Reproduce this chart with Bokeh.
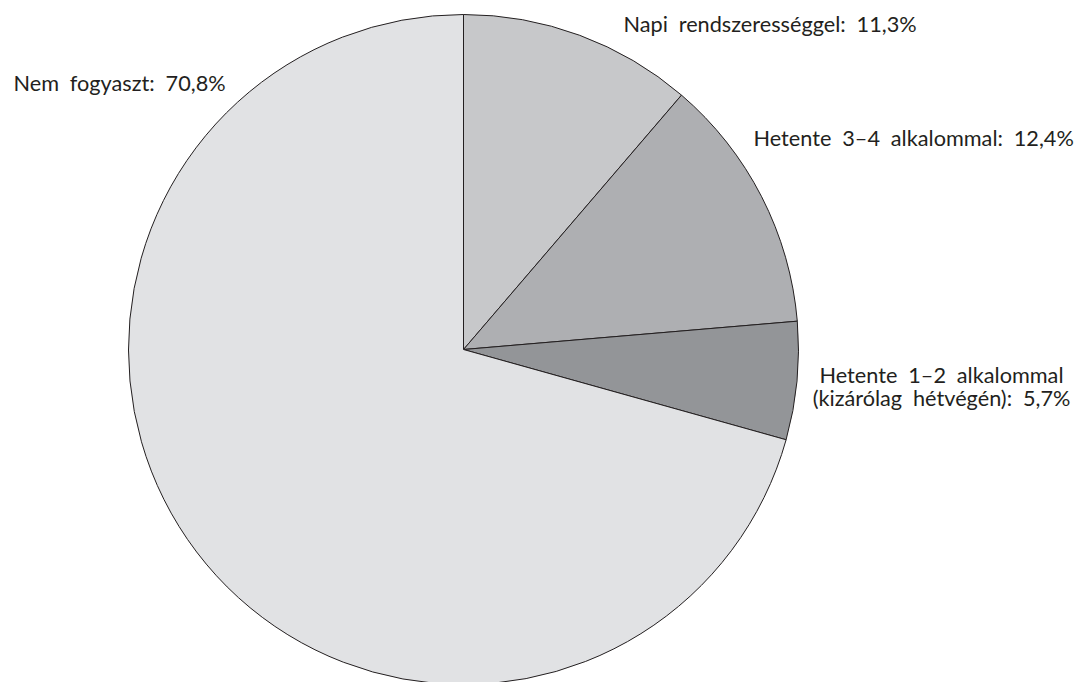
from math import pi
from bokeh.plotting import figure
from bokeh.models import Range1d, ColumnDataSource
from bokeh.core.properties import value
from bokeh.embed import file_html
from bokeh.resources import INLINE

# ---- data ----
categories = ["Napi rendszerességgel", "Hetente 3–4 alkalommal",
              "Hetente 1–2 alkalommal (kizárólag hétvégén)", "Nem fogyaszt"]
shares = [11.3, 12.4, 5.7, 70.8]
share_labels = ["11,3%", "12,4%", "5,7%", "70,8%"]
label_lines = [["Napi rendszerességgel:"],
               ["Hetente 3–4 alkalommal:"],
               ["Hetente 1–2 alkalommal", "(kizárólag hétvégén):"],
               ["Nem fogyaszt:"]]

# ---- style / layout ----
colors = ["#c7c8ca", "#aeafb2", "#939598", "#e1e2e4"]
W, H = 1081, 682
cx, cy, R = 463, 333, 335
label_x = [623, 753, 941, 13]
label_y = [659, 545, 308, 600]
label_align = ["left", "left", "center", "left"]
line_gap = 23
SEP = "\u2002"

total = sum(shares)
starts, ends = [], []
a = pi / 2
for s in shares:
    starts.append(a - 2 * pi * s / total)
    ends.append(a)
    a -= 2 * pi * s / total

src = ColumnDataSource(dict(start=starts, end=ends, color=colors, cat=categories))

p = figure(width=W, height=H, x_range=Range1d(0, W), y_range=Range1d(0, H),
           output_backend="svg", toolbar_location=None, min_border=0,
           outline_line_color=None)
p.axis.visible = False
p.grid.visible = False
p.background_fill_color = "white"
p.border_fill_color = "white"

p.wedge(x=cx, y=cy, radius=R, start_angle="start", end_angle="end",
        fill_color="color", line_color="#231f20", line_width=1, source=src)

tx, ty, tt, ta = [], [], [], []
for lines, pct, x0, y0, al in zip(label_lines, share_labels, label_x, label_y, label_align):
    for i, ln in enumerate(lines):
        t = SEP.join(ln.split(" "))
        if i == len(lines) - 1:
            t = t + SEP + pct
        tx.append(x0)
        ty.append(y0 - i * line_gap)
        tt.append(t)
        ta.append(al)

tsrc = ColumnDataSource(dict(x=tx, y=ty, text=tt, align=ta))
p.text(x="x", y="y", text="text", text_align="align", source=tsrc,
       text_font=value("Lato"), text_font_size="21.7px", text_color="#231f20",
       text_baseline="middle")

open("out.html", "w").write(file_html(p, INLINE))
